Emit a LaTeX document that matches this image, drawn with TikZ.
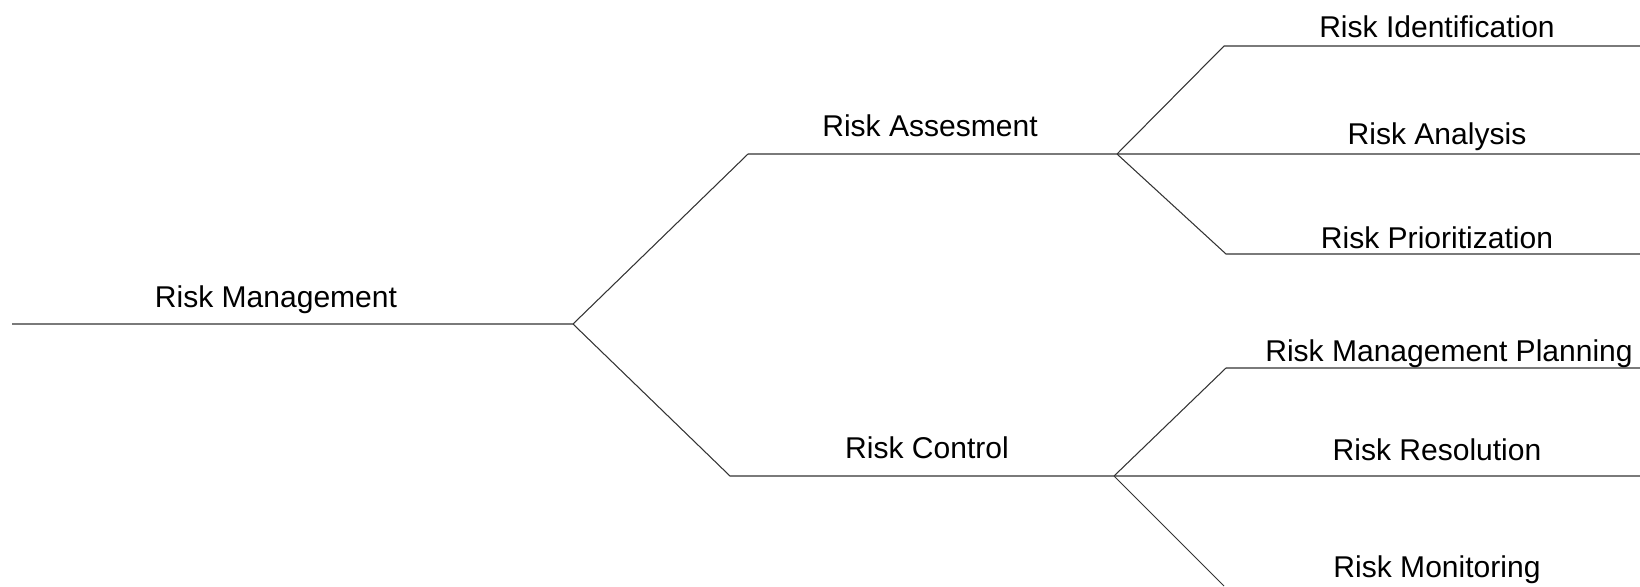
\documentclass[tikz,border=0pt]{standalone}
\usepackage{fontspec}
\setmainfont{Liberation Sans}
\usetikzlibrary{calc}

\begin{document}
\begin{tikzpicture}[x=0.02cm,y=-0.02cm,
  branch/.style={line width=0.6pt,black!80},
  lbl/.style={anchor=base,inner sep=0pt,font=\fontsize{17.1}{20}\selectfont}]
\useasboundingbox (0,0) rectangle (1640,586);
% level 0
\coordinate (root) at (12,324);
\coordinate (j0) at (573,324);
% level 1
\coordinate (assess) at (748,154);
\coordinate (j1) at (1117,154);
\coordinate (control) at (730,476);
\coordinate (j2) at (1114,476);
% level 2
\coordinate (ident) at (1224,46);
\coordinate (identEnd) at (1640,46);
\coordinate (analysisEnd) at (1640,154);
\coordinate (prior) at (1226,254);
\coordinate (priorEnd) at (1640,254);
\coordinate (plan) at (1226,368);
\coordinate (planEnd) at (1640,368);
\coordinate (resolEnd) at (1640,476);
\coordinate (monit) at (1224,586);

\draw[branch] (root) -- (j0) -- (assess) -- (j1) -- (analysisEnd);
\draw[branch] (j0) -- (control) -- (j2) -- (resolEnd);
\draw[branch] (j1) -- (ident) -- (identEnd);
\draw[branch] (j1) -- (prior) -- (priorEnd);
\draw[branch] (j2) -- (plan) -- (planEnd);
\draw[branch] (j2) -- (monit);

\node[lbl] (mgmtLbl) at (276,307) {Risk Management};
\node[lbl] (assessLbl) at (930,136) {Risk Assesment};
\node[lbl] (controlLbl) at (927,458) {Risk Control};
\node[lbl] (identLbl) at (1437,37) {Risk Identification};
\node[lbl] (analysisLbl) at (1437,144) {Risk Analysis};
\node[lbl] (priorLbl) at (1437,248) {Risk Prioritization};
\node[lbl] (planLbl) at (1449,361) {Risk Management Planning};
\node[lbl] (resolLbl) at (1437,460) {Risk Resolution};
\node[lbl] (monitLbl) at (1437,577) {Risk Monitoring};
\end{tikzpicture}
\end{document}
